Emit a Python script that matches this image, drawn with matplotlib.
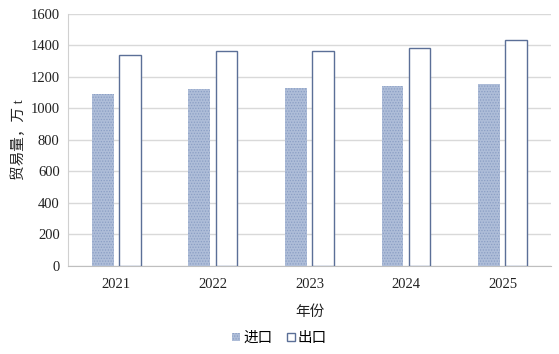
import matplotlib
matplotlib.use('Agg')
import matplotlib.pyplot as plt
import numpy as np

years = ['2021', '2022', '2023', '2024', '2025']
imports = [1095, 1125, 1128, 1140, 1155]
exports = [1340, 1365, 1362, 1385, 1435]

plt.rcParams['font.family'] = ['Liberation Serif', 'Noto Sans CJK SC']
plt.rcParams['hatch.linewidth'] = 0.6

fig = plt.figure(figsize=(5.59, 3.54), dpi=100)
ax = fig.add_axes([0.1216, 0.2486, 0.8641, 0.7119])

x = np.arange(len(years))
w = 0.225
ax.bar(x - 0.14, imports, w, color='#aebdd8', edgecolor='#8a9ec4', hatch='......',
       linewidth=0, label='进口', zorder=3)
ax.bar(x + 0.14, exports, w, color='white', edgecolor='#5b6f97', linewidth=1.0,
       label='出口', zorder=3)

ax.set_xlim(-0.5, len(years) - 0.5)
ax.set_ylim(0, 1600)
ax.set_yticks(range(0, 1601, 200))
ax.set_xticks(x)
ax.set_xticklabels(years)
ax.grid(axis='y', color='#d9d9d9', linewidth=1, zorder=0)
ax.tick_params(axis='both', length=0, labelsize=10.5, colors='#222222')
ax.tick_params(axis='x', pad=9)
ax.tick_params(axis='y', pad=6)
for s in ['top', 'right']:
    ax.spines[s].set_visible(False)
ax.spines['left'].set_color('#d0d0d0')
ax.spines['bottom'].set_color('#bfbfbf')

ax.set_xlabel('年份', fontsize=10.5, labelpad=10, color='#222222')
ax.set_ylabel('贸易量，万 t', fontsize=10.5, labelpad=3, color='#222222')

fig.legend(loc='lower center', bbox_to_anchor=(0.5, -0.012), ncol=2, frameon=False,
           fontsize=10.5, handlelength=0.55, handleheight=0.55, handletextpad=0.2,
           columnspacing=1.0)

fig.savefig('out.png', dpi=100)
plt.close('all')
